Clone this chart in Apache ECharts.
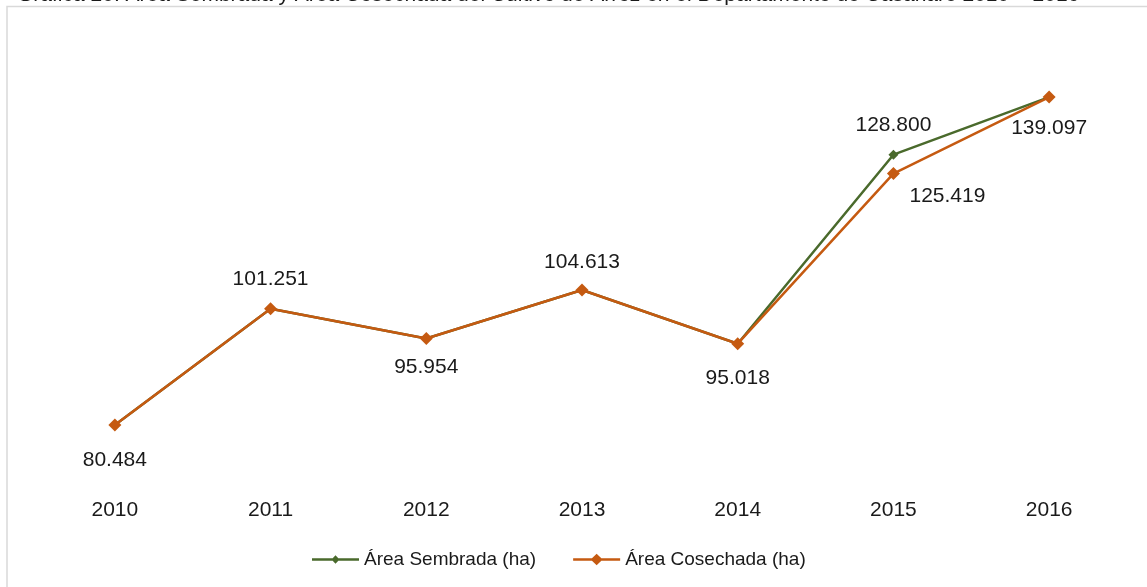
<!DOCTYPE html>
<html><head><meta charset="utf-8">
<script src="https://cdn.jsdelivr.net/npm/echarts@6/dist/echarts.min.js"></script>
<style>html,body{margin:0;padding:0;background:#fff}#c{width:1147px;height:587px}</style>
</head><body><div id="c"></div>
<script>
const titleText = 'Gráfica 20. Área Sembrada y Área Cosechada del Cultivo de Arroz en el Departamento de Casanare 2010 – 2016';
const years = ['2010','2011','2012','2013','2014','2015','2016'];
const sembrada = [80484, 101251, 95954, 104613, 95018, 128800, 139097];
const cosechada = [80484, 101251, 95954, 104613, 95018, 125419, 139097];
const seriesNames = ['Área Sembrada (ha)', 'Área Cosechada (ha)'];

const FONT = '"Liberation Sans", Arial, sans-serif';
const fmt = v => { const s = String(Math.round(v)); return s.replace(/\B(?=(\d{3})+(?!\d))/g, '.'); };

// label offsets per point (style only)
const cosOffsets = [[0,35],[0,-30],[0,29],[0,-28],[0,34],[54,23],[0,31]];
const semOffsets = [null,null,null,null,null,[0,-29],null];

function lbl(off){
  return {show:true, position:'inside', offset:off, color:'#1a1a1a', fontSize:21, fontFamily:FONT,
    formatter: p => fmt(p.value)};
}

const chart = echarts.init(document.getElementById('c'), null, {renderer:'canvas'});
chart.setOption({
  animation:false,
  backgroundColor:'#fff',
  grid:{left:37, right:20, top:92, bottom:103.3, containLabel:false},
  xAxis:{type:'category', data:years, boundaryGap:true,
    axisLine:{show:false}, axisTick:{show:false}, splitLine:{show:false},
    axisLabel:{margin:16, color:'#1a1a1a', fontSize:21, fontFamily:FONT}},
  yAxis:{type:'value', min:70000, max:140000, show:false},
  legend:{
    data:[
      {name:seriesNames[0], icon:'path://M0,5 L47,5 L47,7.5 L0,7.5 Z M23.5,2 L27.5,6.25 L23.5,10.5 L19.5,6.25 Z'},
      {name:seriesNames[1], icon:'path://M0,5 L47,5 L47,7.5 L0,7.5 Z M23.5,0.5 L29.5,6.25 L23.5,12 L17.5,6.25 Z'}
    ],
    top:545, left:307, itemGap:37, itemWidth:47, itemHeight:12.5,
    textStyle:{fontSize:19, fontFamily:FONT, color:'#1a1a1a'}},
  graphic:[
    {type:'rect', shape:{x:7, y:6.5, width:1200, height:700}, style:{fill:'none', stroke:'#d9d9d9', lineWidth:1.5}, silent:true},
    {type:'text', x:17, y:5.5, style:{text:titleText, fontSize:21, fontFamily:FONT, fill:'#1a1a1a', verticalAlign:'bottom', align:'left'}, silent:true}
  ],
  series:[
    {name:seriesNames[0], type:'line', symbol:'diamond', symbolSize:10,
      itemStyle:{color:'#4a6a2c'}, lineStyle:{color:'#4a6a2c', width:2.5},
      data: sembrada.map((v,i)=> semOffsets[i] ? {value:v, label:lbl(semOffsets[i])} : {value:v}),
      z:2},
    {name:seriesNames[1], type:'line', symbol:'diamond', symbolSize:13,
      itemStyle:{color:'#c55a11'}, lineStyle:{color:'#c55a11', width:2.5},
      data: cosechada.map((v,i)=> ({value:v, label:lbl(cosOffsets[i])})),
      z:3}
  ]
});
</script></body></html>
